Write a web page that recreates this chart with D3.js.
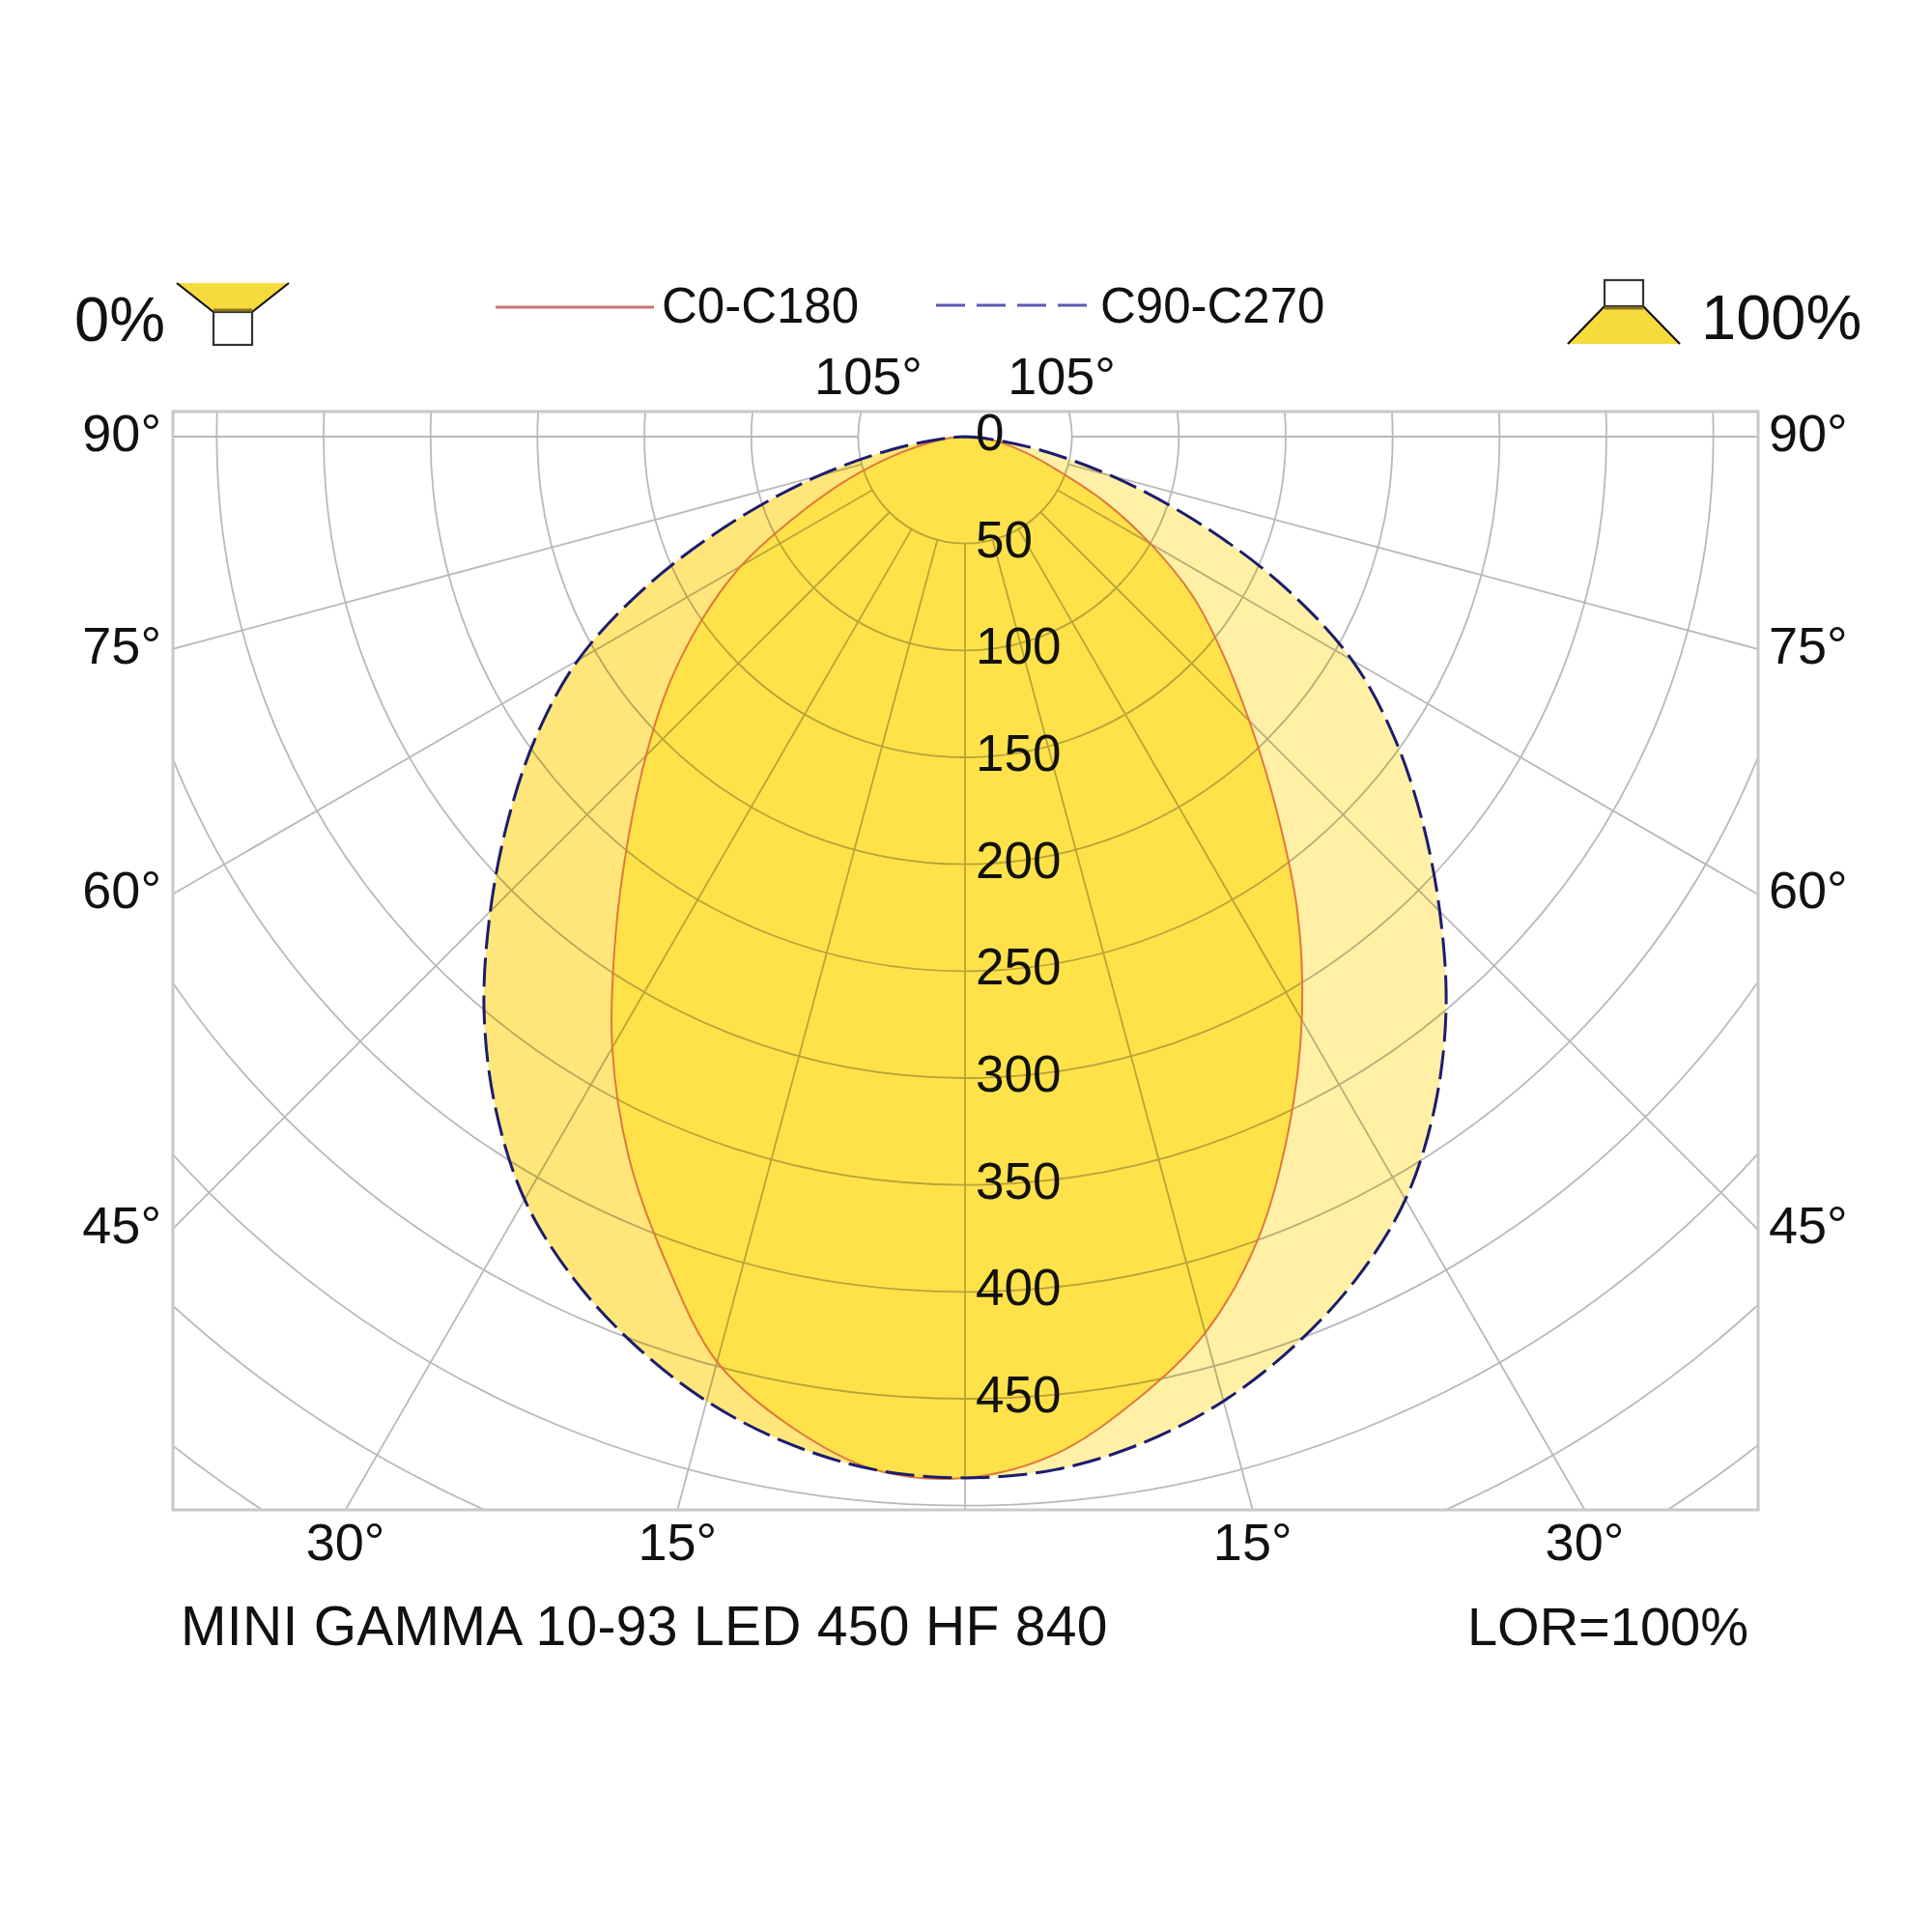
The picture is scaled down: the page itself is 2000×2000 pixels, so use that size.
<!DOCTYPE html>
<html>
<head>
<meta charset="utf-8">
<script src="https://cdn.jsdelivr.net/npm/d3@7"></script>
<style>
  body { margin: 0; background: #fff; }
  text { font-family: "Liberation Sans", Arial, sans-serif; fill: #111; }
</style>
</head>
<body>
<div id="chart"></div>
<script>
// gamma angles (degrees from nadir) and luminous intensity (cd/klm)
const gammaAngles = [0, 5, 10, 15, 20, 25, 30, 35, 40, 45, 50, 55, 60, 65, 70, 75, 80, 85, 90];
const c0Values    = [487, 478, 458, 434, 400, 358, 315, 271, 226, 188, 157, 130, 100, 72, 46, 30, 18, 8, 0];
const c180Values  = [487, 485, 470, 448, 410, 372, 330, 285, 245, 211, 181, 151, 121, 86, 58, 35, 17, 7, 0];
const c90c270Values = [487, 485, 478, 467, 452, 434, 412, 383, 350, 314, 279, 245, 209, 163, 114, 71, 35, 10, 0];

const radialTicks = [0, 50, 100, 150, 200, 250, 300, 350, 400, 450];
const gridRings = [50, 100, 150, 200, 250, 300, 350, 400, 450, 500, 550, 600];
const spokeAngles = d3.range(0, 360, 15);
const sideAngleLabels = [90, 75, 60, 45];
const bottomAngleLabels = [30, 15];
const topAngleLabels = [105];

const seriesNames = ["C0-C180", "C90-C270"];
const titleText = "MINI GAMMA 10-93 LED 450 HF 840";
const lorText = "LOR=100%";
const downLightText = "0%";
const upLightText = "100%";

const W = 2000, H = 2000;
const box = { left: 179, top: 426, right: 1820, bottom: 1563 };
const cx = 999, cy = 452;

const svg = d3.select("#chart")
    .append("svg")
    .attr("width", W)
    .attr("height", H);

svg.append("rect").attr("width", W).attr("height", H).attr("fill", "#fff");

// radius scale: cd/klm -> pixels
const rScale = d3.scaleLinear().domain([0, 600]).range([0, 1328]);
const rad = d => d * Math.PI / 180;

svg.append("defs").append("clipPath")
    .attr("id", "box-clip")
    .append("rect")
    .attr("x", box.left).attr("y", box.top)
    .attr("width", box.right - box.left).attr("height", box.bottom - box.top);

const plot = svg.append("g")
    .attr("clip-path", "url(#box-clip)");

const polar = plot.append("g")
    .attr("transform", `translate(${cx},${cy})`);

// lineRadial angle: 0 = up, clockwise. gamma from nadir -> right side PI-g, left side PI+g
const radial = d3.lineRadial()
    .angle(d => d.a)
    .radius(d => rScale(d.v))
    .curve(d3.curveCatmullRom);

const rightSide = vals => gammaAngles.map((g, i) => ({ a: Math.PI - rad(g), v: vals[i] }));
const leftSide = vals => gammaAngles.map((g, i) => ({ a: Math.PI + rad(g), v: vals[i] }));

// C90-C270 halves (lighter fill)
polar.append("path")
    .attr("d", radial(rightSide(c90c270Values)) + "L0,0Z")
    .attr("fill", "#fff0a6");
polar.append("path")
    .attr("d", radial(leftSide(c90c270Values)) + "L0,0Z")
    .attr("fill", "#ffe67a");

// C0-C180 fill
const redPts = rightSide(c0Values).reverse().concat(leftSide(c180Values).slice(1));
polar.append("path")
    .attr("d", radial(redPts) + "Z")
    .attr("fill", "#ffe24a");

// grid: rings and spokes, multiplied over the fills
const grid = polar.append("g")
    .style("mix-blend-mode", "multiply")
    .attr("fill", "none")
    .attr("stroke", "#b9b9b9")
    .attr("stroke-width", 1.8);

grid.selectAll("circle")
    .data(gridRings)
    .enter()
    .append("circle")
    .attr("r", d => rScale(d));

grid.selectAll("line")
    .data(spokeAngles)
    .enter()
    .append("line")
    .attr("x1", d => rScale(50) * Math.sin(rad(d)))
    .attr("y1", d => rScale(50) * Math.cos(rad(d)))
    .attr("x2", d => rScale(700) * Math.sin(rad(d)))
    .attr("y2", d => rScale(700) * Math.cos(rad(d)));

// curves
polar.append("path")
    .attr("d", radial(redPts))
    .attr("fill", "none")
    .attr("stroke", "#e0783a")
    .attr("stroke-width", 2);

const bluePts = rightSide(c90c270Values).reverse().concat(leftSide(c90c270Values).slice(1));
polar.append("path")
    .attr("d", radial(bluePts))
    .attr("fill", "none")
    .attr("stroke", "#1c1c6e")
    .attr("stroke-width", 3)
    .attr("stroke-dasharray", "30,9");

// radial value labels
polar.selectAll(".rlabel")
    .data(radialTicks)
    .enter()
    .append("text")
    .attr("class", "rlabel")
    .attr("x", 11)
    .attr("y", d => rScale(d) + 14)
    .style("font-size", "53px")
    .text(d => d);

// frame
svg.append("rect")
    .attr("x", box.left).attr("y", box.top)
    .attr("width", box.right - box.left).attr("height", box.bottom - box.top)
    .attr("fill", "none")
    .attr("stroke", "#c8c8c8")
    .attr("stroke-width", 3);

// angle labels at the frame
const angFont = "54px";
sideAngleLabels.forEach(a => {
    const y = a === 90 ? cy : cy + (cx - box.left) / Math.tan(rad(a));
    svg.append("text")
        .attr("x", box.left - 12).attr("y", y + 15)
        .attr("text-anchor", "end")
        .style("font-size", angFont)
        .text(a + "°");
    svg.append("text")
        .attr("x", box.right + 11).attr("y", y + 15)
        .attr("text-anchor", "start")
        .style("font-size", angFont)
        .text(a + "°");
});

bottomAngleLabels.forEach(a => {
    const dx = (box.bottom - cy) * Math.tan(rad(a));
    [-1, 1].forEach(s => {
        svg.append("text")
            .attr("x", cx + s * dx).attr("y", box.bottom + 52)
            .attr("text-anchor", "middle")
            .style("font-size", angFont)
            .text(a + "°");
    });
});

topAngleLabels.forEach(a => {
    const dx = (cy - box.top) / Math.tan(rad(a - 90)) + 3;
    [-1, 1].forEach(s => {
        svg.append("text")
            .attr("x", cx + s * dx).attr("y", 408)
            .attr("text-anchor", "middle")
            .style("font-size", angFont)
            .text(a + "°");
    });
});

// legend
const legendY = 318;
svg.append("line")
    .attr("x1", 513).attr("x2", 677).attr("y1", legendY).attr("y2", legendY)
    .attr("stroke", "#c87474").attr("stroke-width", 3);
svg.append("text")
    .attr("x", 685).attr("y", legendY + 16)
    .style("font-size", "51px")
    .text(seriesNames[0]);

svg.append("line")
    .attr("x1", 969).attr("x2", 1135).attr("y1", legendY - 2).attr("y2", legendY - 2)
    .attr("stroke", "#5a5ab4").attr("stroke-width", 3)
    .attr("stroke-dasharray", "30,12");
svg.append("text")
    .attr("x", 1139).attr("y", legendY + 16)
    .style("font-size", "51px")
    .text(seriesNames[1]);

// down-light / up-light icons
function lampIcon(x, up) {
    const g = svg.append("g");
    if (!up) {
        // wide edge on top, housing below
        g.append("path")
            .attr("d", `M${x - 58},293 L${x + 58},293 L${x + 20},323 L${x - 20},323 Z`)
            .attr("fill", "#f7da3c");
        g.append("path")
            .attr("d", `M${x - 58},293 L${x - 20},323 M${x + 58},293 L${x + 20},323`)
            .attr("stroke", "#111").attr("stroke-width", 2.2).attr("fill", "none");
        g.append("rect")
            .attr("x", x - 20).attr("y", 323).attr("width", 40).attr("height", 34)
            .attr("fill", "#fff").attr("stroke", "#333").attr("stroke-width", 2.2);
        g.append("line")
            .attr("x1", x - 20).attr("x2", x + 20).attr("y1", 321).attr("y2", 321)
            .attr("stroke", "#8a7420").attr("stroke-width", 3);
    } else {
        g.append("path")
            .attr("d", `M${x - 20},317 L${x + 20},317 L${x + 58},356 L${x - 58},356 Z`)
            .attr("fill", "#f7da3c");
        g.append("path")
            .attr("d", `M${x - 20},317 L${x - 58},356 M${x + 20},317 L${x + 58},356`)
            .attr("stroke", "#111").attr("stroke-width", 2.2).attr("fill", "none");
        g.append("rect")
            .attr("x", x - 20).attr("y", 290).attr("width", 40).attr("height", 27)
            .attr("fill", "#fff").attr("stroke", "#333").attr("stroke-width", 2.2);
        g.append("line")
            .attr("x1", x - 20).attr("x2", x + 20).attr("y1", 319).attr("y2", 319)
            .attr("stroke", "#8a7420").attr("stroke-width", 3);
    }
}
lampIcon(241, false);
lampIcon(1681, true);

svg.append("text")
    .attr("x", 77).attr("y", 353)
    .style("font-size", "65px")
    .text(downLightText);
svg.append("text")
    .attr("x", 1761).attr("y", 351)
    .style("font-size", "65px")
    .text(upLightText);

// footer
svg.append("text")
    .attr("x", 187).attr("y", 1703)
    .style("font-size", "57px")
    .style("letter-spacing", "0.3px")
    .text(titleText);
svg.append("text")
    .attr("x", 1810).attr("y", 1703)
    .attr("text-anchor", "end")
    .style("font-size", "56px")
    .text(lorText);
</script>
</body>
</html>
